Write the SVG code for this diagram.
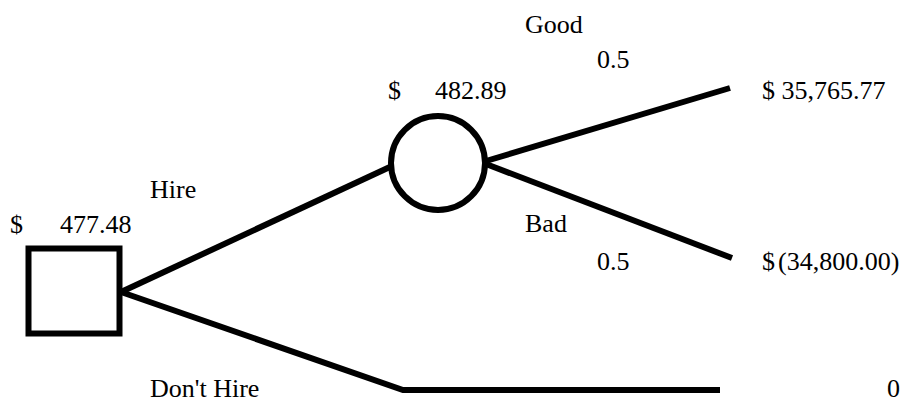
<svg xmlns="http://www.w3.org/2000/svg" width="903" height="403" viewBox="0 0 903 403">
<style>
.t{font-family:'Liberation Serif','Times New Roman',serif;font-size:26px;fill:#000}
.ln{stroke:#000;stroke-width:6;fill:none}
</style>
<rect width="903" height="403" fill="#fff"/>
<g id="connectors">
<line class="ln" x1="121" y1="292" x2="392" y2="166"/>
<polyline class="ln" points="121,292 403,390 720,390"/>
<line class="ln" x1="486" y1="161" x2="730" y2="88"/>
<line class="ln" x1="486" y1="164" x2="732" y2="258"/>
</g>
<g id="decision">
<rect class="ln" x="28.5" y="248.5" width="91" height="85" stroke-width="7"/>
<text class="t" x="10" y="233">$</text>
<text class="t" x="60" y="233">477.48</text>
</g>
<g id="chance">
<circle class="ln" cx="438" cy="163" r="47"/>
<text class="t" x="388" y="99">$</text>
<text class="t" x="435" y="99">482.89</text>
</g>
<g id="labels">
<text class="t" x="150" y="198">Hire</text>
<text class="t" x="150" y="397">Don't Hire</text>
<text class="t" x="525" y="33">Good</text>
<text class="t" x="597" y="68">0.5</text>
<text class="t" x="525" y="232">Bad</text>
<text class="t" x="597" y="270">0.5</text>
</g>
<g id="payoffs">
<text class="t" x="762" y="99">$ 35,765.77</text>
<text class="t" x="762" y="270">$<tspan dx="3">(34,800.00)</tspan></text>
<text class="t" x="887" y="397">0</text>
</g>
</svg>
